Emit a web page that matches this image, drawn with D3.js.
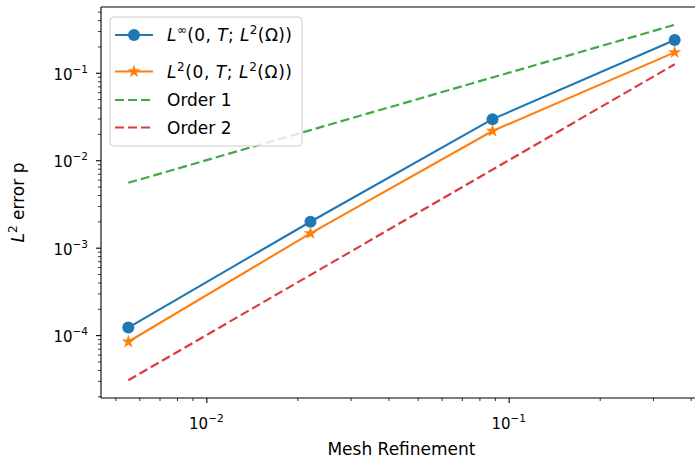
<!DOCTYPE html>
<html>
<head>
<meta charset="utf-8">
<script src="https://cdn.jsdelivr.net/npm/d3@7"></script>
<style>
  html, body { margin: 0; padding: 0; background: #fff; }
  svg { display: block; overflow: hidden; }
  text { font-family: "DejaVu Sans", sans-serif; fill: #000; }
</style>
</head>
<body>
<svg id="chart" width="695" height="461"></svg>
<script>
// ---- data ----
const meshSizes = [0.00552, 0.0221, 0.0884, 0.354];
const errLinf = [1.22e-4, 1.98e-3, 2.95e-2, 2.37e-1];
const errL2 = [8.4e-5, 1.46e-3, 2.16e-2, 1.71e-1];
const order1 = [0.00552, 0.0221, 0.0884, 0.354];
const order2 = [3.05e-5, 4.88e-4, 7.81e-3, 0.125];
const xTickValues = [1e-2, 1e-1];
const xTickExps = ["−2", "−1"];
const yTickValues = [1e-4, 1e-3, 1e-2, 1e-1];
const yTickExps = ["−4", "−3", "−2", "−1"];
const xLabel = "Mesh Refinement";
const seriesNames = ["Linf", "L2", "Order 1", "Order 2"];
const colors = ["#1f77b4", "#ff7f0e", "#2ca02c", "#d62728"];

// ---- layout ----
const svg = d3.select("#chart");
const plot = { left: 101, right: 702, top: 7, bottom: 398 };

// log-space 5% margins like matplotlib autoscale
function logExtent(arrs) {
  const all = arrs.flat();
  const lo = Math.log10(d3.min(all)), hi = Math.log10(d3.max(all));
  const m = (hi - lo) * 0.05;
  return [Math.pow(10, lo - m), Math.pow(10, hi + m)];
}
const x = d3.scaleLog().domain(logExtent([meshSizes])).range([plot.left, plot.right]);
const y = d3.scaleLog().domain(logExtent([errLinf, errL2, order1, order2])).range([plot.bottom, plot.top]);

function minorTicks(scale) {
  const [a, b] = scale.domain();
  const out = [];
  for (let e = Math.floor(Math.log10(a)); e <= Math.ceil(Math.log10(b)); e++) {
    for (let k = 2; k <= 9; k++) {
      const v = k * Math.pow(10, e);
      if (v >= a && v <= b) out.push(v);
    }
  }
  return out;
}

// ---- axes ----
const xAxis = d3.axisBottom(x).tickValues(xTickValues).tickSize(5).tickFormat("");
const xMinor = d3.axisBottom(x).tickValues(minorTicks(x)).tickSize(3).tickFormat("");
const yAxis = d3.axisLeft(y).tickValues(yTickValues).tickSize(5).tickFormat("");
const yMinor = d3.axisLeft(y).tickValues(minorTicks(y)).tickSize(3).tickFormat("");

function styleAxis(g, w) {
  g.select(".domain").remove();
  g.selectAll(".tick line").attr("stroke", "#000").attr("stroke-width", w);
}
svg.append("g").attr("transform", `translate(0,${plot.bottom})`).call(xAxis).call(g => styleAxis(g, 1.1));
svg.append("g").attr("transform", `translate(0,${plot.bottom})`).call(xMinor).call(g => styleAxis(g, 0.8));
svg.append("g").attr("transform", `translate(${plot.left},0)`).call(yAxis).call(g => styleAxis(g, 1.1));
svg.append("g").attr("transform", `translate(${plot.left},0)`).call(yMinor).call(g => styleAxis(g, 0.8));

const xl = svg.append("g").selectAll("text").data(xTickValues).join("text")
  .attr("x", d => x(d)).attr("y", plot.bottom + 31)
  .attr("text-anchor", "middle").style("font-size", "15px");
xl.append("tspan").text("10");
xl.append("tspan").attr("dy", -7).style("font-size", "10.5px").text((d, i) => xTickExps[i]);

const yl = svg.append("g").selectAll("text").data(yTickValues).join("text")
  .attr("x", plot.left - 13).attr("y", d => y(d) + 7)
  .attr("text-anchor", "end").style("font-size", "15px");
yl.append("tspan").text("10");
yl.append("tspan").attr("dy", -7).style("font-size", "10.5px").text((d, i) => yTickExps[i]);

// ---- lines ----
const line = d3.line().x(d => x(d[0])).y(d => y(d[1]));
const zip = ys => meshSizes.map((h, i) => [h, ys[i]]);

svg.append("path").datum(zip(order1)).attr("d", line)
  .attr("fill", "none").attr("stroke", colors[2]).attr("stroke-width", 2.2)
  .attr("stroke-dasharray", "9,4").attr("opacity", 0.9);
svg.append("path").datum(zip(order2)).attr("d", line)
  .attr("fill", "none").attr("stroke", colors[3]).attr("stroke-width", 2.2)
  .attr("stroke-dasharray", "9,4").attr("opacity", 0.9);

svg.append("path").datum(zip(errLinf)).attr("d", line)
  .attr("fill", "none").attr("stroke", colors[0]).attr("stroke-width", 2.1);
svg.append("g").selectAll("circle").data(zip(errLinf)).join("circle")
  .attr("cx", d => x(d[0])).attr("cy", d => y(d[1])).attr("r", 6).attr("fill", colors[0]);

svg.append("path").datum(zip(errL2)).attr("d", line)
  .attr("fill", "none").attr("stroke", colors[1]).attr("stroke-width", 2.1);
const star = d3.symbol().type(d3.symbolStar).size(55);
svg.append("g").selectAll("path").data(zip(errL2)).join("path")
  .attr("d", star).attr("transform", d => `translate(${x(d[0])},${y(d[1])})`)
  .attr("fill", colors[1]);

// ---- spines ----
[[plot.left, plot.bottom, plot.right, plot.bottom], [plot.left, plot.top, plot.right, plot.top],
 [plot.left, plot.top, plot.left, plot.bottom], [plot.right, plot.top, plot.right, plot.bottom]]
  .forEach(s => svg.append("line").attr("x1", s[0]).attr("y1", s[1]).attr("x2", s[2]).attr("y2", s[3])
    .attr("stroke", "#000").attr("stroke-width", 1.1));

// ---- axis labels ----
svg.append("text").attr("x", (plot.left + plot.right) / 2).attr("y", 455)
  .attr("text-anchor", "middle").style("font-size", "17px").text(xLabel);

const ylab = svg.append("text").attr("transform", `translate(24,${(plot.top + plot.bottom) / 2}) rotate(-90)`)
  .attr("text-anchor", "middle").style("font-size", "17px");
ylab.append("tspan").style("font-style", "italic").text("L");
ylab.append("tspan").attr("dy", -7).style("font-size", "12px").text("2");
ylab.append("tspan").attr("dy", 7).text(" error p");

// ---- legend ----
const lg = svg.append("g");
lg.append("rect").attr("x", 110).attr("y", 17).attr("width", 192).attr("height", 129).attr("rx", 4)
  .attr("fill", "#fff").attr("fill-opacity", 0.8).attr("stroke", "#ccc").attr("stroke-width", 1);

const rowsY = [35, 71.5, 100, 127.5];
const hx0 = 115, hx1 = 153, tx = 167;
[0, 1].forEach(i => {
  lg.append("line").attr("x1", hx0).attr("x2", hx1).attr("y1", rowsY[i]).attr("y2", rowsY[i])
    .attr("stroke", colors[i]).attr("stroke-width", 2.1);
});
lg.append("circle").attr("cx", (hx0 + hx1) / 2).attr("cy", rowsY[0]).attr("r", 6).attr("fill", colors[0]);
lg.append("path").attr("d", star).attr("transform", `translate(${(hx0 + hx1) / 2},${rowsY[1]})`).attr("fill", colors[1]);
[2, 3].forEach(i => {
  lg.append("line").attr("x1", hx0).attr("x2", hx1).attr("y1", rowsY[i]).attr("y2", rowsY[i])
    .attr("stroke", colors[i]).attr("stroke-width", 2.2).attr("stroke-dasharray", "9,4").attr("opacity", 0.9);
});

const mathLabels = [
  [{t: "L", i: true}, {t: "∞", s: true}, {t: "(0, "}, {t: "T", i: true}, {t: "; "}, {t: "L", i: true}, {t: "2", s: true}, {t: "(Ω))"}],
  [{t: "L", i: true}, {t: "2", s: true}, {t: "(0, "}, {t: "T", i: true}, {t: "; "}, {t: "L", i: true}, {t: "2", s: true}, {t: "(Ω))"}]
];
mathLabels.forEach((parts, r) => {
  const t = lg.append("text").attr("x", tx).attr("y", rowsY[r] + 6).style("font-size", "17px")
    .attr("textLength", 125).attr("lengthAdjust", "spacing");
  let up = false;
  parts.forEach(p => {
    const ts = t.append("tspan").text(p.t);
    if (p.i) ts.style("font-style", "italic");
    if (p.s) { ts.attr("dy", -7).style("font-size", "12px"); up = true; }
    else if (up) { ts.attr("dy", 7); up = false; }
  });
});
[2, 3].forEach(i => {
  lg.append("text").attr("x", tx).attr("y", rowsY[i] + 6).style("font-size", "17px").text(seriesNames[i]);
});
</script>
</body>
</html>
